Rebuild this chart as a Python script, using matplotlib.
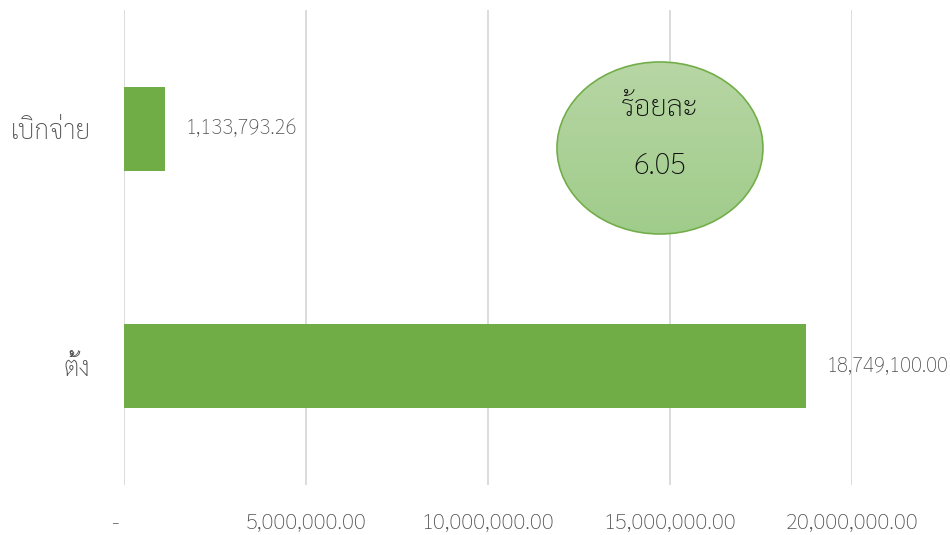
import matplotlib
matplotlib.use("Agg")
import numpy as np
import matplotlib.pyplot as plt
from matplotlib.patches import Ellipse
from matplotlib.ticker import FuncFormatter

categories = ['ตั้ง', 'เบิกจ่าย']
values = [18749100.00, 1133793.26]
percent_label = 'ร้อยละ'
percent_value = '6.05'

plt.rcParams['font.family'] = ['Sarabun', 'DejaVu Sans']
plt.rcParams['font.weight'] = 'light'

bar_color = '#70ad47'
text_color = '#505050'

fig = plt.figure(figsize=(9.5, 5.35), dpi=100)
ax = fig.add_axes([0.1305, 0.0935, 0.7663, 0.8878])

pos = np.arange(len(categories))
ax.barh(pos, values, height=0.355, color=bar_color, zorder=3)
ax.set_xlim(0, 20000000)
ax.set_ylim(-0.5, 1.5)
ax.set_xticks(np.arange(0, 20000001, 5000000))
ax.xaxis.set_major_formatter(FuncFormatter(lambda v, p: '-   ' if v == 0 else '{:,.2f}'.format(v)))
ax.set_yticks(pos)
ax.set_yticklabels(categories)
ax.tick_params(axis='x', length=0, pad=20, labelsize=16, labelcolor=text_color)
ax.tick_params(axis='y', length=0, pad=24, labelsize=19, labelcolor=text_color)
ax.grid(axis='x', color='#d9d9d9', linewidth=1.3, zorder=0)
for s in ax.spines.values():
    s.set_visible(False)

for p, v in zip(pos, values):
    ax.annotate('{:,.2f}'.format(v), (v, p), xytext=(20, 0), textcoords='offset pixels',
                va='center', ha='left', fontsize=14.7, color=text_color, annotation_clip=False)

# circle with gradient fill
cx, cy, w, h = 0.6947, 0.7234, 0.2168, 0.3215
grad = np.linspace(0, 1, 256).reshape(-1, 1, 1)
top = np.array([0.718, 0.839, 0.643])
bot = np.array([0.627, 0.800, 0.545])
img = top + (bot - top) * grad * np.ones((1, 1, 3))
cax = fig.add_axes([cx - w / 2, cy - h / 2, w, h])
cax.set_axis_off()
cax.set_xlim(0, 1)
cax.set_ylim(0, 1)
gi = cax.imshow(img, extent=[0, 1, 0, 1], aspect='auto')
gi.set_clip_path(Ellipse((0.5, 0.5), 0.995, 0.995, transform=cax.transAxes))
ell = Ellipse((0.5, 0.5), 1, 1, transform=cax.transAxes, facecolor='none',
              edgecolor=bar_color, linewidth=1.2, clip_on=False)
cax.add_patch(ell)
cax.text(0.5, 0.73, percent_label, transform=cax.transAxes, ha='center', va='center',
         fontsize=21, color='#111111')
cax.text(0.5, 0.39, percent_value, transform=cax.transAxes, ha='center', va='center',
         fontsize=21, color='#111111')

fig.savefig('out.png', dpi=100)
